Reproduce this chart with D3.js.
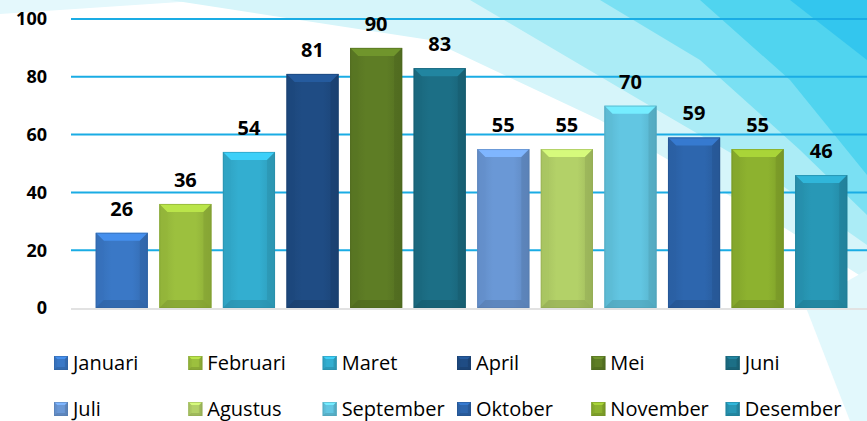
<!DOCTYPE html>
<html>
<head>
<meta charset="utf-8">
<script src="https://cdn.jsdelivr.net/npm/d3@7"></script>
<style>
  html, body { margin: 0; padding: 0; background: #fff; }
  svg { display: block; }
</style>
</head>
<body>
<svg width="867" height="421"></svg>
<script>
var months = ["Januari", "Februari", "Maret", "April", "Mei", "Juni",
              "Juli", "Agustus", "September", "Oktober", "November", "Desember"];
var values = [26, 36, 54, 81, 90, 83, 55, 55, 70, 59, 55, 46];
var colors = ["#3a78c6", "#9cc03e", "#33aed0", "#1f4c84", "#5e7d25", "#1c6f86",
              "#6a98d6", "#b3d168", "#62c6e2", "#2d66ae", "#8db22f", "#2898b6"];
var yTicks = [0, 20, 40, 60, 80, 100];

var svg = d3.select("svg");
var width = +svg.attr("width");
var height = +svg.attr("height");
var font = "'Open Sans', Lato, sans-serif";

// background facets
var bg = svg.append("g");
var facets = [
    {c: "#e4f8fc", p: [[0,0],[210,0],[0,14]]},
    {c: "#d6f5fa", p: [[170,0],[867,0],[867,280],[780,225],[600,120],[430,40]]},
    {c: "#abecf6", p: [[470,0],[867,0],[867,245],[760,170],[640,100]]},
    {c: "#7ae0f3", p: [[600,0],[867,0],[867,215],[800,150],[700,60]]},
    {c: "#50d4ef", p: [[700,0],[867,0],[867,175],[790,80]]},
    {c: "#33c6ee", p: [[790,0],[867,0],[867,60]]},
    {c: "#e2f8fc", p: [[805,305],[867,270],[867,421],[850,421]]}
];
bg.selectAll("polygon").data(facets).enter().append("polygon")
  .attr("points", function(d) { return d.p.join(" "); })
  .attr("fill", function(d) { return d.c; });

var x = d3.scaleBand().domain(months).range([90, 853]).paddingInner(0.18).paddingOuter(0.09);
var y = d3.scaleLinear().domain([0, 100]).range([308, 19]);

// grid lines
svg.append("g").selectAll("line")
   .data(yTicks.slice(1)).enter().append("line")
   .attr("x1", 71).attr("x2", width)
   .attr("y1", function(d) { return y(d); })
   .attr("y2", function(d) { return y(d); })
   .attr("stroke", "#1aace4").attr("stroke-width", 2);
svg.append("line")
   .attr("x1", 71).attr("x2", width)
   .attr("y1", y(0) + 1).attr("y2", y(0) + 1)
   .attr("stroke", "#e2e2e2").attr("stroke-width", 2);

// y axis labels
svg.append("g").selectAll("text")
   .data(yTicks).enter().append("text")
   .attr("x", 47).attr("y", function(d) { return y(d); })
   .attr("dy", "0.36em")
   .attr("text-anchor", "end")
   .style("font-family", font).style("font-weight", "bold").style("font-size", "18px")
   .text(function(d) { return d; });

// gradients
var defs = svg.append("defs");
colors.forEach(function(c, i) {
    var g = defs.append("linearGradient").attr("id", "g" + i)
                .attr("x1", 0).attr("x2", 1).attr("y1", 0).attr("y2", 0);
    g.append("stop").attr("offset", "0%").attr("stop-color", d3.color(c).darker(0.25));
    g.append("stop").attr("offset", "30%").attr("stop-color", c);
    g.append("stop").attr("offset", "70%").attr("stop-color", c);
    g.append("stop").attr("offset", "100%").attr("stop-color", d3.color(c).darker(0.35));
});

function bevel(g, x0, y0, w, h, i, b) {
    var c = colors[i];
    g.append("rect").attr("x", x0).attr("y", y0).attr("width", w).attr("height", h)
     .attr("fill", "url(#g" + i + ")");
    g.append("polygon")
     .attr("points", [[x0,y0],[x0+w,y0],[x0+w-b,y0+b],[x0+b,y0+b]].join(" "))
     .attr("fill", d3.color(c).brighter(0.5));
    g.append("polygon")
     .attr("points", [[x0,y0],[x0+b,y0+b],[x0+b,y0+h-b],[x0,y0+h]].join(" "))
     .attr("fill", d3.color(c).darker(0.15)).attr("opacity", 0.6);
    g.append("polygon")
     .attr("points", [[x0+w,y0],[x0+w-b,y0+b],[x0+w-b,y0+h-b],[x0+w,y0+h]].join(" "))
     .attr("fill", d3.color(c).darker(0.5)).attr("opacity", 0.6);
    g.append("polygon")
     .attr("points", [[x0,y0+h],[x0+b,y0+h-b],[x0+w-b,y0+h-b],[x0+w,y0+h]].join(" "))
     .attr("fill", d3.color(c).darker(0.6)).attr("opacity", 0.6);
    g.append("rect").attr("x", x0 + 0.5).attr("y", y0 + 0.5).attr("width", w - 1).attr("height", h - 1)
     .attr("fill", "none").attr("stroke", d3.color(c).darker(0.6)).attr("stroke-opacity", 0.5);
}

// bars
var bars = svg.append("g");
months.forEach(function(m, i) {
    var g = bars.append("g");
    bevel(g, x(m), y(values[i]), x.bandwidth(), y(0) - y(values[i]), i, 8);
});

// value labels
svg.append("g").selectAll("text")
   .data(values).enter().append("text")
   .attr("x", function(d, i) { return x(months[i]) + x.bandwidth() / 2; })
   .attr("y", function(d) { return y(d) - 17; })
   .attr("text-anchor", "middle")
   .style("font-family", font).style("font-weight", "bold").style("font-size", "20px")
   .text(function(d) { return d; });

// legend
var col = d3.scaleBand().domain(d3.range(6)).range([54, 860]);
var row = d3.scaleBand().domain([0, 1]).range([340, 432]);
var legend = svg.append("g");
months.forEach(function(m, i) {
    var lx = col(i % 6);
    var ly = row(Math.floor(i / 6)) + row.bandwidth() / 2;
    var g = legend.append("g");
    bevel(g, lx, ly - 7, 14, 14, i, 3);
    g.append("text").attr("x", lx + 19).attr("y", ly).attr("dy", "0.35em")
     .style("font-family", font).style("font-size", "20px")
     .text(m);
});
</script>
</body>
</html>
